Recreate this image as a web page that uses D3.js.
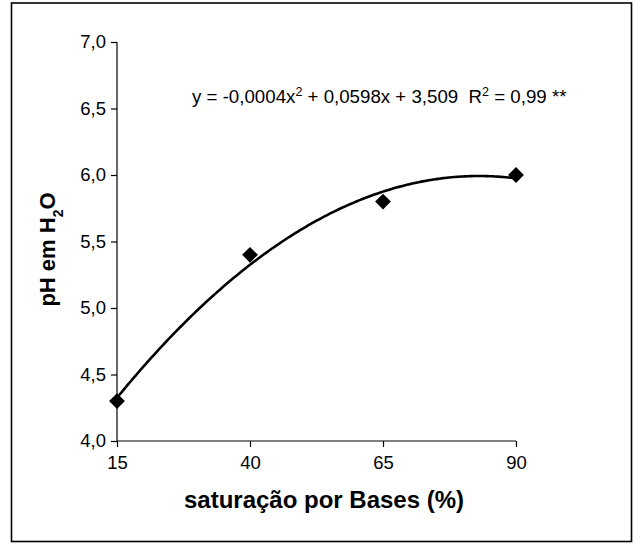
<!DOCTYPE html>
<html>
<head>
<meta charset="utf-8">
<script src="https://cdn.jsdelivr.net/npm/d3@7"></script>
<style>
  html, body { margin: 0; padding: 0; background: #fff; }
  svg { display: block; }
</style>
</head>
<body>
<script>
// Base saturation (%) and measured soil pH in water
const saturacao = [15, 40, 65, 90];
const phAgua = [4.3, 5.4, 5.8, 6.0];

// Axis ticks
const xTicks = [15, 40, 65, 90];
const yTicks = [4.0, 4.5, 5.0, 5.5, 6.0, 6.5, 7.0];

// Regression label text
const equacaoPartes = [
  { t: "y = -0,0004x", sup: false }, { t: "2", sup: true },
  { t: " + 0,0598x + 3,509  R", sup: false }, { t: "2", sup: true },
  { t: " = 0,99 **", sup: false }
];

const W = 642, H = 544;
const margin = { left: 117, right: 126, top: 42, bottom: 103 };

const svg = d3.select("body").append("svg")
  .attr("width", W).attr("height", H);

// outer chart frame
svg.append("rect")
  .attr("x", 11.5).attr("y", 3).attr("width", 620).attr("height", 538.5)
  .attr("fill", "none").attr("stroke", "#000").attr("stroke-width", 1.6);

const x = d3.scaleLinear().domain([15, 90]).range([margin.left, W - margin.right]);
const y = d3.scaleLinear().domain([4, 7]).range([H - margin.bottom, margin.top]);

const font = "'Liberation Sans', Arial, sans-serif";

// Y axis
const yAxis = svg.append("g")
  .attr("transform", `translate(${margin.left},0)`)
  .call(d3.axisLeft(y).tickValues(yTicks).tickSize(6).tickPadding(5)
    .tickFormat(d => d3.format(".1f")(d).replace(".", ",")));

// X axis
const xAxis = svg.append("g")
  .attr("transform", `translate(0,${H - margin.bottom})`)
  .call(d3.axisBottom(x).tickValues(xTicks).tickSize(6).tickPadding(9)
    .tickFormat(d3.format("d")));

[yAxis, xAxis].forEach(g => {
  g.select(".domain").attr("stroke", "#000").attr("stroke-width", 1.2);
  g.selectAll(".tick line").attr("stroke", "#000").attr("stroke-width", 1.2);
  g.selectAll(".tick text").attr("fill", "#000")
    .style("font-family", font).style("font-size", "18.5px");
});
yAxis.select(".domain").attr("d", `M0,${y(4)}V${y(7)}`);
xAxis.select(".domain").attr("d", `M${x(15)},0H${x(90)}`);

// Quadratic least-squares fit of pH on saturation
function ajusteQuadratico(xs, ys) {
  const S = k => d3.sum(xs, v => Math.pow(v, k));
  const Sy = k => d3.sum(xs, (v, i) => Math.pow(v, k) * ys[i]);
  const A = [[S(0), S(1), S(2)], [S(1), S(2), S(3)], [S(2), S(3), S(4)]];
  const b = [Sy(0), Sy(1), Sy(2)];
  // Gaussian elimination
  for (let i = 0; i < 3; i++) {
    for (let j = i + 1; j < 3; j++) {
      const f = A[j][i] / A[i][i];
      for (let k = i; k < 3; k++) A[j][k] -= f * A[i][k];
      b[j] -= f * b[i];
    }
  }
  const c = [0, 0, 0];
  for (let i = 2; i >= 0; i--) {
    let s = b[i];
    for (let k = i + 1; k < 3; k++) s -= A[i][k] * c[k];
    c[i] = s / A[i][i];
  }
  return c; // c0 + c1 x + c2 x^2
}
const coef = ajusteQuadratico(saturacao, phAgua);
const curva = d3.range(15, 90.01, 0.5).map(v => [v, coef[0] + coef[1] * v + coef[2] * v * v]);

svg.append("path")
  .datum(curva)
  .attr("fill", "none").attr("stroke", "#000").attr("stroke-width", 2.6)
  .attr("d", d3.line().x(d => x(d[0])).y(d => y(d[1])).curve(d3.curveBasis));

// Diamond markers
svg.append("g").selectAll("path")
  .data(saturacao.map((v, i) => [v, phAgua[i]]))
  .join("path")
  .attr("d", d3.symbol(d3.symbolSquare, 125))
  .attr("transform", d => `translate(${x(d[0])},${y(d[1])}) rotate(45)`)
  .attr("fill", "#000");

// Regression equation
const eq = svg.append("text")
  .attr("x", 192).attr("y", 103)
  .attr("xml:space", "preserve")
  .style("font-family", font).style("font-size", "18.7px").attr("fill", "#000");
equacaoPartes.forEach(p => {
  const ts = eq.append("tspan").text(p.t);
  if (p.sup) ts.attr("baseline-shift", "super").style("font-size", "12.5px");
});

// Axis titles
svg.append("text")
  .attr("x", 324).attr("y", 508)
  .attr("text-anchor", "middle")
  .style("font-family", font).style("font-size", "24px").style("font-weight", "bold")
  .text("saturação por Bases (%)");

const yTitulo = svg.append("text")
  .attr("transform", `translate(55,${(y(4) + y(7)) / 2 + 8}) rotate(-90)`)
  .attr("text-anchor", "middle")
  .style("font-family", font).style("font-size", "22px").style("font-weight", "bold");
yTitulo.append("tspan").text("pH em H");
yTitulo.append("tspan").text("2").attr("baseline-shift", "sub").style("font-size", "14px");
yTitulo.append("tspan").text("O");
</script>
</body>
</html>
